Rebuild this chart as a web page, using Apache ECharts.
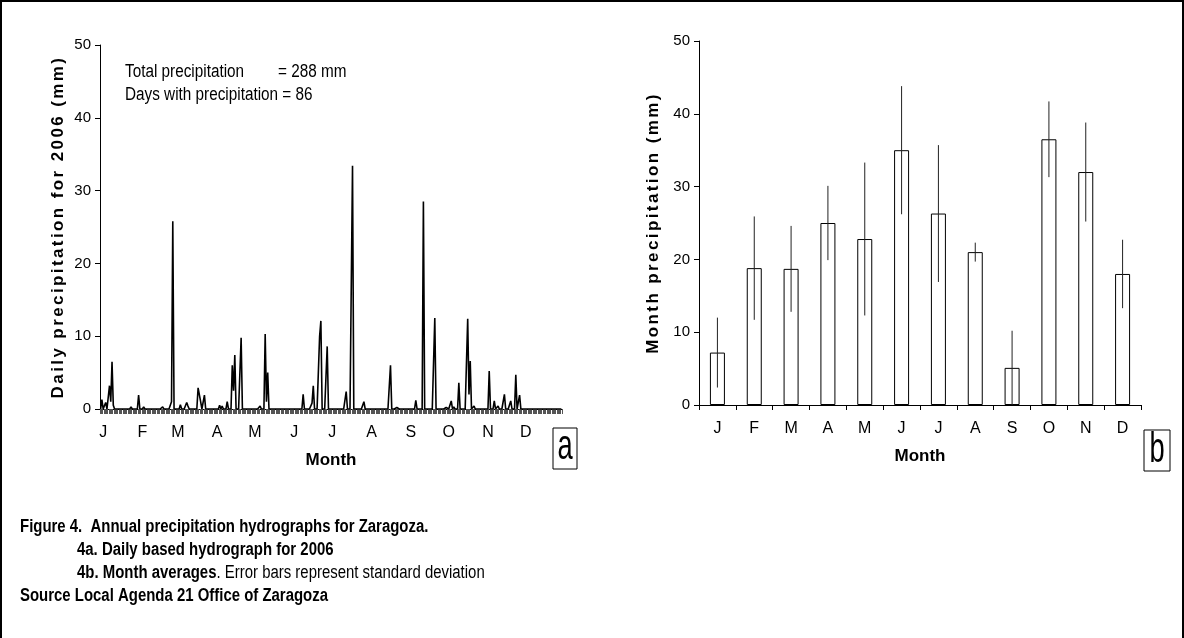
<!DOCTYPE html>
<html>
<head>
<meta charset="utf-8">
<script src="https://cdn.jsdelivr.net/npm/echarts@6/dist/echarts.min.js"></script>
<style>
  html, body { margin: 0; padding: 0; background: #fff; }
  #chart { width: 1184px; height: 638px; }
</style>
</head>
<body>
<div id="chart"></div>
<script>
// ---------- DATA ----------
const monthLetters = ['J', 'F', 'M', 'A', 'M', 'J', 'J', 'A', 'S', 'O', 'N', 'D'];
const monthLengths = [31, 28, 31, 30, 31, 30, 31, 31, 30, 31, 30, 31];

// Daily precipitation 2006 (mm), one array per month
const jan = [0, 1.3, 0, 0, 0.9, 0, 0, 3.2, 1.0, 6.5, 0.5, 0, 0.2, 0, 0, 0, 0, 0, 0, 0, 0, 0, 0, 0, 0.3, 0, 0, 0, 0, 0, 1.9];
const feb = [0, 0, 0, 0.3, 0, 0, 0, 0, 0, 0, 0, 0, 0, 0, 0, 0, 0, 0, 0.3, 0, 0, 0, 0, 0, 0, 1.0, 25.8, 0];
const mar = [0, 0, 0, 0, 0.6, 0, 0, 0, 0, 0.9, 0.4, 0, 0, 0, 0, 0, 0, 0, 2.9, 2.7, 1.0, 0, 0, 1.9, 0, 0, 0, 0, 0, 0, 0];
const apr = [0, 0, 0, 0, 0.5, 0, 0.4, 0, 0, 0, 1.0, 0, 0, 0, 6.0, 2.5, 7.4, 0, 0, 0, 0, 9.8, 0, 0, 0, 0, 0, 0, 0, 0];
const may = [0, 0, 0, 0, 0, 0, 0.4, 0, 0, 0, 10.3, 1.0, 5.0, 0, 0, 0, 0, 0, 0, 0, 0, 0, 0, 0, 0, 0, 0, 0, 0, 0, 0];
const jun = [0, 0, 0, 0, 0, 0, 0, 0, 0, 2.0, 0, 0, 0, 0, 0, 0, 0.8, 3.2, 0, 0, 0, 0, 10.0, 12.1, 0, 0, 0, 0, 8.6, 0];
const jul = [0, 0, 0, 0, 0, 0, 0, 0, 0, 0, 0, 0, 0, 2.4, 0, 0, 0, 0, 33.4, 0, 0, 0, 0, 0, 0, 0, 0, 1.0, 0, 0, 0];
const aug = [0, 0, 0, 0, 0, 0, 0, 0, 0, 0, 0, 0, 0, 0, 0, 0, 0, 6.0, 0, 0, 0, 0, 0.2, 0, 0, 0, 0, 0, 0, 0, 0];
const sep = [0, 0, 0, 0, 0, 0, 1.2, 0, 0, 0, 0, 0, 28.5, 0, 0, 0, 0, 0, 0, 0, 0, 12.5, 0, 0, 0, 0, 0, 0, 0, 0];
const oct = [0.2, 0, 0, 0, 1.1, 0, 0.3, 0, 0, 0, 3.6, 0, 0, 0, 0, 0, 0, 12.4, 2.0, 6.6, 0, 0, 0.4, 0, 0, 0, 0.2, 0, 0, 0, 0];
const nov = [0, 0, 0, 5.2, 0, 0, 0, 1.1, 0, 0, 0.4, 0, 0, 0, 0, 2.0, 0, 0, 0, 0, 1.1, 0, 0, 0, 4.7, 0, 0, 1.9, 0, 0];
const dec = [0, 0, 0, 0, 0, 0, 0, 0, 0, 0, 0, 0, 0, 0, 0, 0, 0, 0, 0, 0, 0, 0, 0, 0, 0, 0, 0, 0, 0, 0, 0];

// Month averages (mm) and standard deviations
const monthMean = [7.2, 18.8, 18.7, 25.0, 22.8, 35.0, 26.3, 21.0, 5.1, 36.5, 32.0, 18.0];
const monthSD   = [4.8, 7.1, 5.9, 5.1, 10.5, 8.8, 9.4, 1.3, 5.1, 5.2, 6.8, 4.7];

const yTicks = [0, 10, 20, 30, 40, 50];

// ---------- TEXT ----------
const leftYName = 'Daily precipitation for 2006 (mm)';
const rightYName = 'Month precipitation (mm)';
const xName = 'Month';
const noteLine1 = 'Total precipitation        = 288 mm';
const noteLine2 = 'Days with precipitation = 86';
const caption1 = 'Figure 4.  Annual precipitation hydrographs for Zaragoza.';
const caption2 = '4a. Daily based hydrograph for 2006';
const caption3b = '4b. Month averages';
const caption3n = '. Error bars represent standard deviation';
const caption4 = 'Source Local Agenda 21 Office of Zaragoza';

// ---------- letter spacing only for the two spaced axis titles ----------
(function () {
  const spaced = new Set([leftYName, rightYName]);
  const proto = CanvasRenderingContext2D.prototype;
  const orig = proto.fillText;
  proto.fillText = function (t, x, y, mw) {
    const hasMw = arguments.length > 3 && mw !== undefined;
    if (spaced.has(t) && ('letterSpacing' in this)) {
      const f = this.font;
      this.save();
      this.letterSpacing = '2.4px';
      this.font = '10px serif';
      this.font = f;
      const r = hasMw ? orig.call(this, t, x, y, mw) : orig.call(this, t, x, y);
      this.letterSpacing = '0px';
      this.restore();
      this.letterSpacing = '0px';
      this.font = '10px serif';
      this.font = f;
      return r;
    }
    return hasMw ? orig.call(this, t, x, y, mw) : orig.call(this, t, x, y);
  };
})();

// ---------- derived structures ----------
const daily = [].concat(jan, feb, mar, apr, may, jun, jul, aug, sep, oct, nov, dec);
const dayCats = daily.map((_, i) => String(i + 1));
const monthStarts = [];
monthLengths.reduce((acc, len) => { monthStarts.push(acc); return acc + len; }, 0);
const errData = monthMean.map((m, i) => [i, Math.max(0, m - monthSD[i]), m + monthSD[i]]);

const SANS = "'Liberation Sans', Arial, sans-serif";
const CAP_SCALE = 0.83;

const chart = echarts.init(document.getElementById('chart'), null, { renderer: 'canvas' });

function yAxisCfg(gridIndex, name, gap) {
  return {
    type: 'value', gridIndex: gridIndex, min: 0, max: 50, interval: 10,
    axisLine: { show: true, lineStyle: { color: '#000', width: 1 } },
    axisTick: { show: true, inside: false, length: 5, lineStyle: { color: '#000' } },
    splitLine: { show: false },
    axisLabel: {
      margin: 9, color: '#000', fontFamily: SANS, fontSize: 15,
      formatter: v => (yTicks.indexOf(v) >= 0 ? String(v) : '')
    },
    name: name, nameLocation: 'middle', nameGap: gap, nameRotate: 90,
    nameTextStyle: { color: '#000', fontFamily: SANS, fontWeight: 'bold', fontSize: 17 }
  };
}

const option = {
  animation: false,
  backgroundColor: '#fff',
  grid: [
    { left: 100, top: 45, width: 462, height: 364 },
    { left: 699, top: 41, width: 442, height: 364 }
  ],
  xAxis: [
    {
      type: 'category', gridIndex: 0, data: dayCats, boundaryGap: true,
      axisLine: { show: true, lineStyle: { color: '#000', width: 1 } },
      axisTick: { show: true, interval: 0, length: 5, lineStyle: { color: '#555', width: 1 } },
      axisLabel: {
        interval: (idx) => monthStarts.indexOf(idx) >= 0,
        formatter: (val, idx) => monthLetters[monthStarts.indexOf(idx)] || '',
        margin: 16, color: '#000', fontFamily: SANS, fontSize: 16, padding: [0, 0, 0, 5]
      },
      name: xName, nameLocation: 'middle', nameGap: 43,
      nameTextStyle: { color: '#000', fontFamily: SANS, fontWeight: 'bold', fontSize: 17 }
    },
    {
      type: 'category', gridIndex: 1, data: monthLetters, boundaryGap: true,
      axisLine: { show: true, lineStyle: { color: '#000', width: 1 } },
      axisTick: { show: true, interval: 0, length: 5, lineStyle: { color: '#000' } },
      axisLabel: { interval: 0, margin: 16, color: '#000', fontFamily: SANS, fontSize: 16 },
      name: xName, nameLocation: 'middle', nameGap: 43,
      nameTextStyle: { color: '#000', fontFamily: SANS, fontWeight: 'bold', fontSize: 17 }
    }
  ],
  yAxis: [
    yAxisCfg(0, leftYName, 33),
    yAxisCfg(1, rightYName, 37)
  ],
  series: [
    {
      type: 'line', xAxisIndex: 0, yAxisIndex: 0, data: daily,
      showSymbol: false, symbol: 'none',
      lineStyle: { color: '#000', width: 1.6 }, z: 3
    },
    {
      type: 'bar', xAxisIndex: 1, yAxisIndex: 1, data: monthMean, barWidth: 15,
      itemStyle: { color: '#fff', borderColor: '#000', borderWidth: 1 }
    },
    {
      type: 'custom', xAxisIndex: 1, yAxisIndex: 1, data: errData,
      encode: { x: 0, y: [1, 2] }, z: 5,
      renderItem: function (params, api) {
        const p1 = api.coord([api.value(0), api.value(1)]);
        const p2 = api.coord([api.value(0), api.value(2)]);
        return {
          type: 'line',
          shape: { x1: p1[0], y1: p1[1], x2: p2[0], y2: p2[1] },
          style: { stroke: '#222', lineWidth: 1 }
        };
      }
    }
  ],
  graphic: [
    { type: 'rect', shape: { x: 1, y: 1, width: 1182, height: 700 }, style: { fill: null, stroke: '#000', lineWidth: 2 }, silent: true },
    { type: 'text', x: 125, y: 72, scaleX: 0.85, style: { text: noteLine1, font: '18px ' + SANS, fill: '#000', verticalAlign: 'middle' } },
    { type: 'text', x: 125, y: 95, scaleX: 0.85, style: { text: noteLine2, font: '18px ' + SANS, fill: '#000', verticalAlign: 'middle' } },
    { type: 'rect', shape: { x: 553, y: 428, width: 24, height: 41 }, style: { fill: '#fff', stroke: '#000', lineWidth: 1 } },
    { type: 'text', x: 565, y: 447, scaleX: 0.65, style: { text: 'a', font: '42px ' + SANS, fill: '#000', align: 'center', verticalAlign: 'middle' } },
    { type: 'rect', shape: { x: 1144, y: 430, width: 26, height: 41 }, style: { fill: '#fff', stroke: '#000', lineWidth: 1 } },
    { type: 'text', x: 1157, y: 450, scaleX: 0.65, style: { text: 'b', font: '42px ' + SANS, fill: '#000', align: 'center', verticalAlign: 'middle' } },
    { type: 'text', x: 20, y: 527, scaleX: CAP_SCALE, style: { text: caption1, font: 'bold 18px ' + SANS, fill: '#000', verticalAlign: 'middle' } },
    { type: 'text', x: 77, y: 550, scaleX: CAP_SCALE, style: { text: caption2, font: 'bold 18px ' + SANS, fill: '#000', verticalAlign: 'middle' } },
    {
      type: 'text', x: 77, y: 573, scaleX: CAP_SCALE,
      style: {
        text: '{b|' + caption3b + '}{n|' + caption3n + '}',
        verticalAlign: 'middle', fill: '#000',
        rich: {
          b: { fontFamily: SANS, fontWeight: 'bold', fontSize: 18, fill: '#000' },
          n: { fontFamily: SANS, fontWeight: 'normal', fontSize: 18, fill: '#000' }
        }
      }
    },
    { type: 'text', x: 20, y: 596, scaleX: CAP_SCALE, style: { text: caption4, font: 'bold 18px ' + SANS, fill: '#000', verticalAlign: 'middle' } }
  ]
};

chart.setOption(option);
</script>
</body>
</html>
